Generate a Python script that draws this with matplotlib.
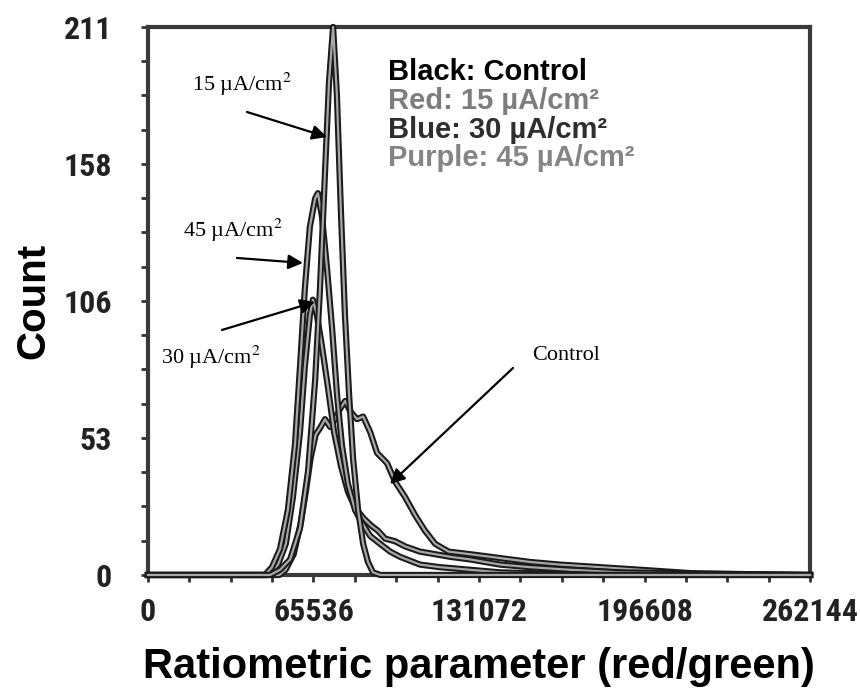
import numpy as np
import matplotlib
matplotlib.use("Agg")
from matplotlib import pyplot as plt
import matplotlib.patheffects as pe

plt.rcParams['mathtext.fontset'] = 'stix'

# histogram traces (channel, count)
ctrl_x = [0, 52000, 54500, 57700, 60500, 62500, 64400, 66400, 68400, 70100, 72100,
          74100, 76100, 78100, 80100, 82800, 85200, 88000, 90700, 94700, 97800,
          101800, 105800, 109700, 113700, 119000, 127500, 135500, 143400, 151300,
          163000, 179000, 195000, 218000, 262144]
ctrl_y = [0, 0, 2, 8, 20, 32, 45, 54, 57, 60, 57,
          60, 64, 67, 63, 60, 61, 55, 47, 43, 36,
          30, 23, 17, 12, 9, 8, 7, 6, 5,
          4, 3, 2, 0.5, 0]

r15_x = [0, 48400, 52300, 56300, 60200, 63400, 66200, 68100, 70100, 71700, 73300,
         74800, 76400, 78000, 79600, 81200, 83200, 85200, 87100, 89100, 92000, 262144]
r15_y = [0, 0, 2, 6, 18, 40, 75, 110, 155, 190, 211,
         185, 140, 100, 70, 45, 25, 12, 5, 1, 0, 0]

p45_x = [0, 46300, 49100, 52300, 55400, 58200, 60200, 62100, 64100, 66200, 67300,
         68900, 70900, 72900, 74800, 76800, 79200, 82000, 84800, 88000, 91900,
         95900, 99800, 107700, 115600, 127500, 139400, 159200, 179000, 262144]
p45_y = [0, 0, 3, 10, 25, 50, 80, 110, 134, 145, 147,
         138, 118, 95, 70, 50, 35, 25, 20, 15, 12,
         9, 7, 4, 3, 2, 1, 0.5, 0, 0]

b30_x = [0, 47500, 51500, 54600, 57400, 60200, 62100, 64100, 65300, 66900, 68900,
         71300, 73700, 76400, 79200, 82000, 85200, 88400, 91100, 93900, 97800,
         101800, 107700, 113700, 119600, 127500, 139400, 151300, 167100, 187000, 262144]
b30_y = [0, 0, 4, 12, 30, 55, 80, 100, 106, 100, 88,
         72, 55, 42, 32, 26, 22, 19, 17, 14, 13,
         11, 9, 8, 7, 6, 4, 3, 2, 1, 0]

xticks = [0, 65536, 131072, 196608, 262144]
ymax = 211
yticks = np.linspace(0, ymax, 5)
ylabels = [str(int(round(v))) for v in yticks]

fig = plt.figure(figsize=(8.6, 6.95), dpi=100)
ax = fig.add_axes([0.172, 0.1727, 0.770, 0.7885])

effects = [pe.Stroke(linewidth=4.5, foreground='#1a1a1a'),
           pe.Stroke(linewidth=1.6, foreground='#a8a8a8')]
for xs, ys in [(ctrl_x, ctrl_y), (b30_x, b30_y), (p45_x, p45_y), (r15_x, r15_y)]:
    ax.plot(xs, ys, color='#555555', lw=3, path_effects=effects, clip_on=False, zorder=3)

ax.set_xlim(0, 262144)
ax.set_ylim(0, ymax)
ax.set_xticks(xticks)
ax.set_xticks(np.arange(0, 262145, 16384), minor=True)
ax.set_yticks(yticks)
ax.set_yticklabels(ylabels)
ax.set_yticks(np.linspace(0, ymax, 17), minor=True)

for lab in ax.get_xticklabels() + ax.get_yticklabels():
    lab.set_fontfamily(['Roboto Condensed', 'Liberation Serif', 'DejaVu Serif'])
    lab.set_fontweight('bold')
    lab.set_fontsize(23)
    lab.set_color('#222222')
ax.tick_params(which='both', direction='out', length=5, width=2, color='#333333')
ax.tick_params(axis='x', pad=11)
ax.tick_params(axis='y', pad=21)
for s in ax.spines.values():
    s.set_linewidth(3)
    s.set_color('#3a3a3a')

ax.set_xlabel('Ratiometric parameter (red/green)', family=['Liberation Sans', 'DejaVu Sans'],
              weight='bold', size=30, labelpad=14)
ax.set_ylabel('Count', family=['Liberation Sans', 'DejaVu Sans'], weight='bold', size=29,
              labelpad=8)

# legend written as coloured text
leg = [('Black: Control', '#000000'), ('Red: 15 µA/cm²', '#7d7d7d'),
       ('Blue: 30 µA/cm²', '#2e2e2e'), ('Purple: 45 µA/cm²', '#858585')]
for i, (t, c) in enumerate(leg):
    ax.text(0.3625, 0.917 - i * 0.0523, t, transform=ax.transAxes, color=c,
            family=['Liberation Sans', 'DejaVu Sans'], weight='bold', size=21, va='center')

ann = dict(family=['Liberation Serif', 'DejaVu Serif'], size=16, ha='center', va='center')
arw = dict(arrowstyle='-|>', lw=1.6, color='k', mutation_scale=22, shrinkA=0, shrinkB=0)

def px2data(px, py):
    return ((px - 148) * 262144 / 662, (575 - py) * ymax / 548)

ax.text(*px2data(242, 84), '15 µA/cm$^2$', **ann)
ax.annotate('', xy=px2data(327, 137), xytext=px2data(247, 112), arrowprops=arw)
ax.text(*px2data(233, 230), '45 µA/cm$^2$', **ann)
ax.annotate('', xy=px2data(303, 263), xytext=px2data(237, 258), arrowprops=arw)
ax.text(*px2data(211, 357), '30 µA/cm$^2$', **ann)
ax.annotate('', xy=px2data(315, 302), xytext=px2data(222, 330), arrowprops=arw)
ax.text(*px2data(566, 356), 'Control', **ann)
ax.annotate('', xy=px2data(390, 484), xytext=px2data(513, 368), arrowprops=arw)

fig.savefig('out.png', dpi=100)
